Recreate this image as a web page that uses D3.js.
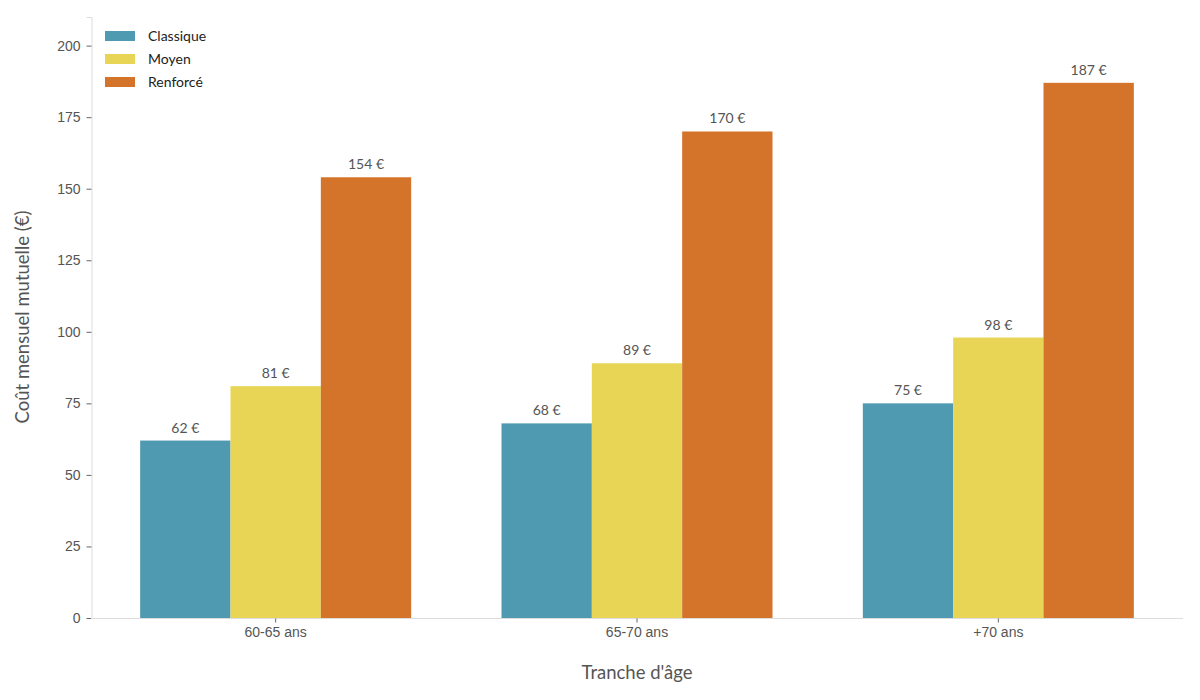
<!DOCTYPE html>
<html><head><meta charset="utf-8">
<script src="https://cdn.jsdelivr.net/npm/d3@7"></script>
<style>body{margin:0;background:#fff;}svg{display:block;font-family:Lato,"Open Sans",sans-serif;}</style>
</head><body><svg id="c" width="1200" height="700"></svg>
<script>
const categories = ["60-65 ans", "65-70 ans", "+70 ans"];
const seriesNames = ["Classique", "Moyen", "Renforcé"];
const classique = [62, 68, 75];
const moyen = [81, 89, 98];
const renforce = [154, 170, 187];
const yTicks = [0, 25, 50, 75, 100, 125, 150, 175, 200];
const colors = ["#4F99B1", "#E8D455", "#D4742B"];

const seriesValues = [classique, moyen, renforce];
const svg = d3.select("#c");
const y = d3.scaleLinear().domain([0, 210]).range([618, 17]);
const x0 = d3.scaleBand().domain(categories).range([95, 1179]).paddingInner(0.25).paddingOuter(0.125);
const x1 = d3.scaleBand().domain(seriesNames).range([0, x0.bandwidth()]);

// axes
const yAxis = svg.append("g").attr("transform", "translate(91.5,0)")
  .call(d3.axisLeft(y).tickValues(yTicks).tickSize(5).tickPadding(6));
yAxis.select(".domain").attr("stroke", "#ddd");
yAxis.selectAll(".tick line").attr("stroke", "#666");
yAxis.selectAll("text").attr("fill", "#555").style("font-size", "14px");

const xAxis = svg.append("g").attr("transform", "translate(0,618.5)")
  .call(d3.axisBottom(x0).tickSize(4).tickPadding(5).tickSizeOuter(0));
xAxis.select(".domain").attr("d", "M91,0H1183").attr("stroke", "#ddd");
xAxis.selectAll(".tick line").attr("stroke", "#666");
xAxis.selectAll("text").attr("fill", "#555").style("font-size", "14px");

// bars
const groups = svg.append("g").selectAll("g").data(categories).join("g")
  .attr("transform", d => `translate(${x0(d)},0)`);
groups.each(function(cat, ci) {
  const g = d3.select(this);
  seriesNames.forEach((s, si) => {
    const v = seriesValues[si][ci];
    g.append("rect").attr("x", x1(s)).attr("width", x1.bandwidth())
      .attr("y", y(v)).attr("height", y(0) - y(v)).attr("fill", colors[si]);
    g.append("text").attr("x", x1(s) + x1.bandwidth() / 2).attr("y", y(v) - 8)
      .attr("text-anchor", "middle").attr("fill", "#555").style("font-size", "14px")
      .text(v + " €");
  });
});

// axis titles
svg.append("text").attr("x", 637).attr("y", 679).attr("text-anchor", "middle")
  .attr("fill", "#555").style("font-size", "18.5px").text("Tranche d'âge");
svg.append("text").attr("transform", "translate(29,317) rotate(-90)").attr("text-anchor", "middle")
  .attr("fill", "#555").style("font-size", "18.5px").text("Coût mensuel mutuelle (€)");

// legend
const leg = svg.append("g");
seriesNames.forEach((s, i) => {
  leg.append("rect").attr("x", 105).attr("y", 31 + i * 23).attr("width", 30).attr("height", 10).attr("fill", colors[i]);
  leg.append("text").attr("x", 148).attr("y", 41 + i * 23).attr("fill", "#222").style("font-size", "14px").text(s);
});
</script></body></html>
